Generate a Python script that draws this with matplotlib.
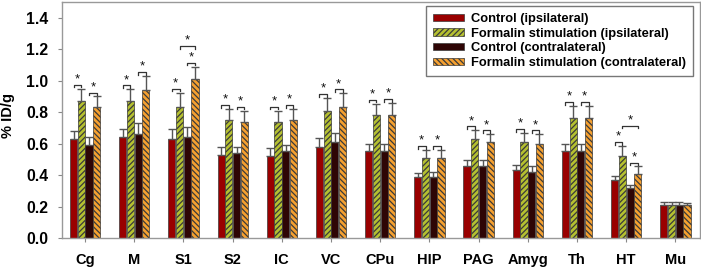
import matplotlib
matplotlib.use("Agg")
import matplotlib.pyplot as plt
import numpy as np

plt.rcParams['font.family'] = ['Liberation Sans', 'DejaVu Sans']
plt.rcParams['hatch.linewidth'] = 0.9

regions = ["Cg", "M", "S1", "S2", "IC", "VC", "CPu", "HIP", "PAG", "Amyg", "Th", "HT", "Mu"]
series_names = ["Control (ipsilateral)", "Formalin stimulation (ipsilateral)",
                "Control (contralateral)", "Formalin stimulation (contralateral)"]

ctrl_ipsi = [0.63, 0.64, 0.63, 0.53, 0.52, 0.58, 0.55, 0.39, 0.46, 0.43, 0.55, 0.37, 0.21]
form_ipsi = [0.87, 0.87, 0.83, 0.75, 0.74, 0.81, 0.78, 0.51, 0.63, 0.61, 0.76, 0.52, 0.21]
ctrl_contra = [0.59, 0.66, 0.64, 0.54, 0.55, 0.61, 0.55, 0.39, 0.46, 0.42, 0.55, 0.32, 0.21]
form_contra = [0.83, 0.94, 1.01, 0.74, 0.75, 0.83, 0.78, 0.51, 0.61, 0.60, 0.76, 0.41, 0.21]

err_ctrl_ipsi = [0.05, 0.055, 0.065, 0.05, 0.05, 0.055, 0.045, 0.025, 0.035, 0.035, 0.05, 0.025, 0.02]
err_form_ipsi = [0.08, 0.075, 0.095, 0.07, 0.07, 0.08, 0.075, 0.05, 0.055, 0.06, 0.08, 0.065, 0.02]
err_ctrl_contra = [0.05, 0.07, 0.065, 0.04, 0.04, 0.055, 0.045, 0.03, 0.035, 0.035, 0.05, 0.02, 0.02]
err_form_contra = [0.07, 0.09, 0.08, 0.07, 0.07, 0.09, 0.08, 0.05, 0.05, 0.06, 0.08, 0.045, 0.015]

# significance: pairs (series index a, series index b) per region
sig_pairs = {
    "Cg": [(0, 1), (2, 3)], "M": [(0, 1), (2, 3)], "S1": [(0, 1), (2, 3), (1, 3)],
    "S2": [(0, 1), (2, 3)], "IC": [(0, 1), (2, 3)], "VC": [(0, 1), (2, 3)],
    "CPu": [(0, 1), (2, 3)], "HIP": [(0, 1), (2, 3)], "PAG": [(0, 1), (2, 3)],
    "Amyg": [(0, 1), (2, 3)], "Th": [(0, 1), (2, 3)], "HT": [(0, 1), (2, 3), (1, 3)],
    "Mu": [],
}

values = [ctrl_ipsi, form_ipsi, ctrl_contra, form_contra]
errors = [err_ctrl_ipsi, err_form_ipsi, err_ctrl_contra, err_form_contra]
colors = ['#990000', '#B5C030', '#2E0505', '#F5A030']
hatches = [None, '//////', None, '\\\\\\\\\\\\']

fig = plt.figure(figsize=(7.01, 2.75), dpi=100)
ax = fig.add_axes([0.0884, 0.1345, 0.9102, 0.858])

x = np.arange(len(regions))
step = 0.157
width = 0.145
offsets = (np.arange(4) - 1.5) * step

for i in range(4):
    ax.bar(x + offsets[i], values[i], width, color=colors[i], hatch=hatches[i],
           edgecolor='#3a3a3a', linewidth=0.5, label=series_names[i], zorder=2)
    ax.errorbar(x + offsets[i], values[i],
                yerr=[np.zeros(len(regions)), errors[i]], fmt='none',
                ecolor='#555555', elinewidth=1.0, capsize=3, capthick=1.0, zorder=3)

# significance brackets
for gi, reg in enumerate(regions):
    tops = [values[s][gi] + errors[s][gi] for s in range(4)]
    for (a, b) in sig_pairs[reg]:
        xa = gi + offsets[a]
        xb = gi + offsets[b]
        if (a, b) == (1, 3):
            y = max(tops[1], tops[3]) + 0.13
        else:
            y = max(tops[a], tops[b]) + 0.025
        ax.plot([xa, xa, xb, xb], [y - 0.018, y, y, y - 0.018], color='#333333',
                lw=0.9, zorder=3)
        ax.text((xa + xb) / 2, y - 0.005, '*', ha='center', va='bottom',
                fontsize=9.5, color='#111111')

ax.set_xlim(-0.47, 12.5)
ax.set_ylim(0, 1.5)
ax.set_yticks(np.arange(0, 1.41, 0.2))
ax.set_yticklabels([f"{v:.1f}" for v in np.arange(0, 1.41, 0.2)],
                   fontsize=11.3, fontweight='bold')
ax.set_xticks(x)
ax.set_xticklabels(regions, fontsize=10.5, fontweight='bold')
ax.tick_params(axis='x', length=3, color='#888888', pad=8)
ax.tick_params(axis='y', length=3, color='#888888', pad=7)
ax.set_ylabel('% ID/g', fontsize=10.5, fontweight='bold')
ax.yaxis.set_label_coords(-0.073, 0.52)
for sp in ax.spines.values():
    sp.set_color('#999999')
    sp.set_linewidth(1.0)

leg = ax.legend(loc='upper right', bbox_to_anchor=(0.989, 0.983), borderaxespad=0,
                prop={'weight': 'bold', 'size': 9.3}, frameon=True, fancybox=False,
                edgecolor='#555555', handlelength=2.4, handleheight=0.5,
                labelspacing=0.2, borderpad=0.55, handletextpad=0.55)
leg.get_frame().set_linewidth(1.0)

fig.savefig('out.png', dpi=100)
